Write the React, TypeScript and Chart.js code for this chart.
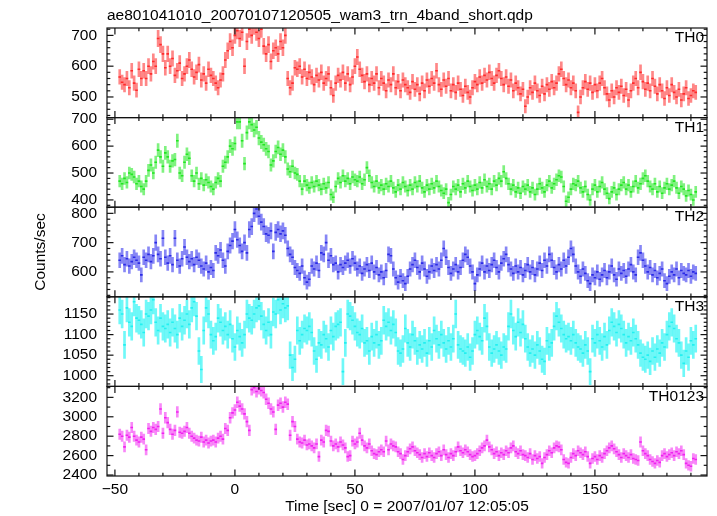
import React, { useEffect, useRef } from "react";
import { Chart, registerables } from "chart.js";

Chart.register(...registerables);

const TITLE = "ae801041010_20070107120505_wam3_trn_4band_short.qdp";
const X_LABEL = "Time [sec] 0 = 2007/01/07 12:05:05";
const Y_LABEL = "Counts/sec";
const BIN_START = -48;
const BIN_WIDTH = 1;
const X_MIN = -53.3;
const X_MAX = 196.7;
const X_TICKS = [-50, 0, 50, 100, 150];

const TH0 = [
  565, 548, 540, 560, 530, 585, 545, 522, 590, 560,
  585, 560, 600, 575, 615, 600, 690, 670, 640, 595,
  640, 600, 625, 570, 585, 610, 560, 575, 600, 620,
  590, 565, 580, 605, 555, 575, 545, 590, 570, 560,
  545, 530, 555, 575, 620, 650, 680, 660, 700, 715,
  690, 710, 600, 680, 720, 700, 730, 710, 690, 720,
  665, 640, 670, 615, 650, 660, 640, 680, 660, 700,
  560, 530, 545, 595, 590, 600, 565, 590, 560, 580,
  565, 540, 570, 555, 580, 545, 560, 575, 530, 505,
  545, 570, 555, 580, 545, 575, 540, 565, 600, 630,
  590, 570, 550, 575, 540, 560, 545, 575, 530, 560,
  545, 520, 555, 540, 575, 530, 550, 520, 555, 540,
  530, 515, 550, 525, 540, 510, 545, 520, 555, 535,
  560, 545, 585, 540, 525, 555, 535, 560, 520, 540,
  515, 545, 525, 505, 535, 515, 500, 530, 550, 540,
  565, 545, 570, 555, 580, 560, 545, 570, 585, 560,
  540, 565, 535, 555, 520, 545, 530, 510, 525, 470,
  500, 530, 515, 545, 520, 505, 535, 510, 540, 525,
  550, 530, 545, 575, 590, 560, 540, 555, 530, 545,
  520, 450, 500, 530, 550, 525, 545, 515, 540, 520,
  545, 560, 530, 510, 490, 520, 500, 530, 515, 535,
  505, 525, 490, 520, 545, 560, 530, 580, 550, 525,
  545, 520, 560, 535, 510, 540, 520, 495, 530, 505,
  540, 515, 500, 525, 490, 510, 530, 495, 505, 520,
  515,
];

const TH1 = [
  470, 460, 480, 465, 500, 495, 485, 460, 470, 450,
  440, 470, 510, 530, 500, 540, 585, 560, 525, 575,
  560, 525, 545, 550, 620, 500, 490, 540, 570, 555,
  490, 470, 500, 460, 480, 455, 475, 465, 450, 440,
  465, 480, 470, 525, 540, 560, 600, 590, 610, 690,
  690, 620, 535, 650, 690, 680, 660, 670, 630, 615,
  605, 590, 580, 530, 545, 580, 595, 570, 585, 560,
  515, 505, 525, 500, 495, 470, 440, 470, 455, 445,
  465, 450, 470, 455, 440, 460, 445, 465, 420, 410,
  450, 480, 465, 490, 470, 480, 460, 485, 475, 470,
  485, 460, 475, 520, 490, 465, 450, 470, 445, 455,
  440, 460, 450, 470, 445, 430, 455, 440, 465, 450,
  435, 455, 440, 465, 450, 470, 445, 430, 455, 440,
  460, 445, 470, 450, 435, 425, 440, 390, 420, 450,
  440, 455, 430, 460, 445, 470, 450, 435, 455, 440,
  465, 445, 475, 450, 460, 440, 470, 455, 480, 470,
  505, 480, 460, 440, 455, 430, 445, 425, 450, 440,
  455, 430, 445, 420, 440, 460, 445, 430, 455, 470,
  445, 460, 475, 490, 485, 450, 395, 410, 440, 460,
  455, 470, 445, 430, 450, 420, 400, 440, 455, 430,
  450, 465, 440, 425, 405, 430, 445, 420, 440, 455,
  465, 440, 455, 430, 450, 470, 445, 460, 480, 490,
  470, 450, 440, 460, 430, 450, 425, 445, 460, 440,
  455, 470, 445, 425, 450, 440, 415, 435, 420, 400,
  430,
];

const TH2 = [
  640, 655, 625, 645, 620, 635, 650, 640, 630, 590,
  650, 640, 660, 635, 655, 700, 660, 645, 715, 650,
  630, 655, 625, 715, 640, 620, 645, 685, 650, 635,
  645, 625, 650, 640, 620, 610, 630, 600, 615, 605,
  665, 655, 675, 640, 620, 670, 690, 705, 745, 710,
  690, 670, 700, 665, 745, 755, 800, 815, 790, 770,
  755, 730, 725, 740, 670, 735, 745, 730, 740, 725,
  680, 660, 650, 615, 605, 595, 620, 580, 565, 575,
  620, 610, 630, 605, 665, 660, 700, 640, 655, 625,
  630, 600, 625, 615, 630, 640, 620, 645, 630, 610,
  620, 595, 610, 625, 605, 630, 600, 615, 590, 600,
  580, 605, 660, 655, 610, 580, 565, 585, 570, 560,
  585, 610, 625, 640, 615, 600, 630, 610, 585, 600,
  620, 605, 625, 610, 640, 680, 650, 615, 595, 610,
  625, 600, 615, 640, 660, 650, 620, 600, 560, 590,
  610, 630, 600, 620, 605, 625, 640, 615, 600, 630,
  645, 660, 625, 610, 595, 620, 600, 615, 590, 605,
  625, 600, 615, 590, 610, 630, 605, 640, 620, 660,
  640, 615, 600, 625, 610, 640, 620, 650, 680, 660,
  620, 600, 585, 610, 595, 570, 560, 590, 580, 600,
  575, 590, 605, 580, 600, 620, 590, 575, 610, 595,
  605, 585, 610, 625, 600, 590, 650, 665, 640, 620,
  600, 615, 590, 605, 580, 595, 610, 570, 560, 585,
  600, 590, 610, 580, 605, 595, 590, 605, 585, 600,
  595,
];

const TH3 = [
  1160, 1150, 1075, 1165, 1130, 1120, 1180, 1140, 1135, 1125,
  1105, 1150, 1145, 1160, 1185, 1130, 1110, 1140, 1120, 1115,
  1125, 1105, 1130, 1115, 1100, 1140, 1120, 1135, 1150, 1125,
  1165, 1180, 1145, 1060, 1015, 1110, 1165, 1150, 1100, 1085,
  1095, 1140, 1130, 1110, 1120, 1100, 1125, 1090, 1070, 1110,
  1095, 1080, 1100, 1150, 1140, 1135, 1150, 1165, 1170, 1145,
  1125, 1110, 1130, 1100, 1155, 1150, 1185, 1160, 1175, 1165,
  1170, 1050, 1020, 1040, 1110, 1085, 1100, 1115, 1110, 1120,
  1105, 1060, 1040, 1080, 1075, 1100, 1090, 1070, 1110, 1095,
  1120, 1125, 1130, 1010, 1080, 1150, 1145, 1135, 1120, 1105,
  1100, 1115, 1080, 1085, 1060, 1095, 1080, 1100, 1075, 1085,
  1135, 1120, 1130, 1110, 1125, 1105, 1060, 1055, 1065, 1115,
  1080, 1070, 1100, 1085, 1060, 1075, 1065, 1080, 1055, 1085,
  1070, 1110, 1090, 1075, 1100, 1080, 1065, 1085, 1070, 1090,
  1150, 1075, 1065, 1060, 1055, 1070, 1045, 1060, 1100, 1110,
  1095, 1085, 1140, 1120, 1070, 1055, 1065, 1075, 1060, 1050,
  1070, 1065, 1120, 1150, 1110, 1095, 1130, 1105, 1125, 1090,
  1070, 1055, 1065, 1050, 1075, 1060, 1040, 1035, 1085, 1070,
  1080, 1120, 1145, 1130, 1115, 1100, 1090, 1095, 1085, 1100,
  1080, 1070, 1065, 1055, 1075, 1060, 1010, 1090, 1080, 1100,
  1085, 1070, 1095, 1075, 1110, 1130, 1120, 1105, 1125, 1115,
  1100, 1080, 1095, 1085, 1105, 1090, 1075, 1055, 1045, 1040,
  1050, 1035, 1060, 1045, 1065, 1055, 1080, 1070, 1100, 1120,
  1130, 1115, 1090, 1080, 1050, 1030, 1060, 1045, 1085, 1075,
  1090,
];

const TH0123 = [
  2820, 2800, 2690, 2810, 2790, 2890, 2800, 2760, 2740, 2790,
  2770, 2660, 2880, 2850, 2890, 2870, 2900, 3080, 2830, 2990,
  2940, 2870, 2820, 2860, 3050, 2840, 2830, 2850, 2890, 2830,
  2800, 2780, 2760, 2750, 2790, 2740, 2760, 2730, 2750, 2760,
  2740, 2780, 2800, 2770, 2880, 2860, 2990, 3040, 3070, 3150,
  3110, 3080, 3030, 2950, 2860, 3280, 3300, 3260, 3290, 3270,
  3250, 3180, 3140, 3080, 3050, 2870, 3120, 3140, 3100, 3150,
  3130, 2810, 2950, 2900, 2770, 2740, 2730, 2760, 2710, 2720,
  2700, 2680, 2720, 2590, 2760, 2740, 2860, 2850, 2750, 2700,
  2720, 2690, 2740, 2710, 2680, 2590, 2600, 2750, 2720, 2740,
  2830, 2760, 2700, 2680, 2720, 2650, 2620, 2610, 2640, 2660,
  2640, 2750, 2660, 2720, 2700, 2690, 2640, 2620, 2560, 2600,
  2640, 2670, 2690, 2650, 2630, 2610, 2580, 2620, 2590, 2630,
  2600, 2580, 2620, 2640, 2600, 2660, 2610, 2580, 2620, 2600,
  2640, 2690, 2650, 2630, 2660, 2640, 2610, 2590, 2600, 2620,
  2650, 2680, 2700, 2760, 2690, 2660, 2620, 2640, 2600, 2630,
  2610, 2650, 2630, 2680, 2700, 2640, 2620, 2650, 2610, 2600,
  2580, 2620, 2560, 2600, 2570, 2590, 2520, 2580, 2610, 2650,
  2630, 2680, 2700, 2690, 2660, 2560, 2530, 2520, 2580, 2620,
  2600, 2650, 2630, 2610, 2640, 2590, 2520, 2570, 2590, 2560,
  2600, 2580, 2620, 2650, 2680, 2700, 2670, 2640, 2610, 2580,
  2620, 2600, 2580, 2610, 2570, 2560, 2550, 2740, 2650, 2620,
  2600, 2560, 2540, 2520, 2550, 2530, 2600, 2620, 2590, 2610,
  2630, 2600, 2640, 2620, 2650, 2610, 2520, 2500, 2490, 2570,
  2560,
];

const PANEL_NAMES = ["TH0", "TH1", "TH2", "TH3", "TH0123"];
const PANEL_VALUES = [TH0, TH1, TH2, TH3, TH0123];
const PANEL_MIN = [433, 373, 515, 974, 2390];
const PANEL_MAX = [724, 706, 821, 1192, 3313];
const PANEL_LABELS = [
  [500, 600, 700],
  [400, 500, 600, 700],
  [600, 700, 800],
  [1000, 1050, 1100, 1150],
  [2400, 2600, 2800, 3000, 3200],
];
const PANEL_MAJOR = [100, 100, 100, 50, 200];
const PANEL_MINOR = [20, 20, 20, 10, 100];
const PANEL_COLORS = ["#ff2a2a", "#22e622", "#2a2ae6", "#22f0f0", "#f022f0"];
const PANEL_ERR_COLORS = [
  "rgba(255,70,70,0.65)",
  "rgba(60,235,60,0.65)",
  "rgba(70,70,240,0.65)",
  "rgba(50,245,245,0.7)",
  "rgba(245,70,245,0.65)",
];

const FONT_FAMILY = "'Liberation Sans', Arial, Helvetica, sans-serif";
const FONT = { family: FONT_FAMILY, size: 15.5, weight: "normal" as const };

const TIMES = TH0.map((_, i) => BIN_START + i * BIN_WIDTH);

const qdpPlugin = {
  id: "qdpFrame",
  beforeDatasetDraw(chart: any, args: any) {
    const ds = chart.data.datasets[args.index];
    const ys = chart.scales[ds.yAxisID];
    const ca = chart.chartArea;
    const ctx = chart.ctx;
    ctx.save();
    ctx.beginPath();
    ctx.rect(ca.left, ys.top, ca.right - ca.left, ys.bottom - ys.top);
    ctx.clip();
  },
  afterDatasetDraw(chart: any) {
    chart.ctx.restore();
  },
  afterDraw(chart: any) {
    const ctx = chart.ctx;
    const ca = chart.chartArea;
    const xs = chart.scales.x;
    ctx.save();
    ctx.strokeStyle = "#111";
    ctx.lineWidth = 1.2;
    const seg = (x1: number, y1: number, x2: number, y2: number) => {
      ctx.beginPath();
      ctx.moveTo(x1, y1);
      ctx.lineTo(x2, y2);
      ctx.stroke();
    };
    PANEL_NAMES.forEach((name, k) => {
      const ys = chart.scales["y" + k];
      const top = ys.top;
      const bottom = ys.bottom;
      ctx.strokeRect(ca.left, top, ca.right - ca.left, bottom - top);
      for (let v = -50; v <= 190; v += 10) {
        const x = xs.getPixelForValue(v);
        const len = v % 50 === 0 ? 6.5 : 3.3;
        seg(x, top, x, top + len);
        seg(x, bottom, x, bottom - len);
      }
      const minor = PANEL_MINOR[k];
      const major = PANEL_MAJOR[k];
      for (let v = Math.ceil(PANEL_MIN[k] / minor) * minor; v <= PANEL_MAX[k]; v += minor) {
        const y = ys.getPixelForValue(v);
        const len = v % major === 0 ? 6.5 : 3.3;
        seg(ca.left, y, ca.left + len, y);
        seg(ca.right, y, ca.right - len, y);
      }
      ctx.fillStyle = "#000";
      ctx.font = `15.5px ${FONT_FAMILY}`;
      ctx.textAlign = "right";
      ctx.textBaseline = "middle";
      ctx.fillText(name, ca.right - 3, top + 10);
    });
    ctx.restore();
  },
};

export default function App() {
  const ref = useRef<HTMLCanvasElement | null>(null);

  useEffect(() => {
    const canvas = ref.current;
    if (!canvas) return;
    Chart.defaults.font.family = FONT_FAMILY;

    const datasets: any[] = [];
    const scales: any = {
      x: {
        type: "linear",
        position: "bottom",
        min: X_MIN,
        max: X_MAX,
        offset: false,
        grid: { display: false, drawTicks: false },
        border: { display: false },
        afterBuildTicks: (s: any) => {
          s.ticks = X_TICKS.map((v) => ({ value: v }));
        },
        afterFit: (s: any) => {
          s.height = 40;
        },
        ticks: {
          autoSkip: false,
          maxRotation: 0,
          padding: 4,
          color: "#000",
          font: FONT,
          callback: (v: any) => (Number(v) < 0 ? "\u2212" + Math.abs(Number(v)) : String(v)),
        },
        title: {
          display: true,
          text: X_LABEL,
          color: "#000",
          font: FONT,
          padding: { top: 0, bottom: 0 },
        },
      },
    };

    PANEL_NAMES.forEach((name, k) => {
      const id = "y" + k;
      const vals = PANEL_VALUES[k];
      datasets.push({
        type: "bar",
        label: name + " error",
        data: vals.map((v, i) => ({ x: TIMES[i], y: [v - Math.sqrt(v), v + Math.sqrt(v)] })),
        xAxisID: "x",
        yAxisID: id,
        backgroundColor: PANEL_ERR_COLORS[k],
        borderWidth: 0,
        barThickness: 2,
        grouped: false,
        order: 1,
      });
      datasets.push({
        type: "line",
        label: name,
        data: vals.map((v, i) => ({ x: TIMES[i], y: v })),
        xAxisID: "x",
        yAxisID: id,
        showLine: false,
        pointStyle: "line",
        pointRadius: 1.3,
        pointHoverRadius: 1.3,
        pointBorderWidth: 1.6,
        pointBorderColor: PANEL_COLORS[k],
        pointBackgroundColor: PANEL_COLORS[k],
        borderColor: PANEL_COLORS[k],
        order: 0,
      });
      scales[id] = {
        type: "linear",
        position: "left",
        stack: "panels",
        stackWeight: 1,
        weight: 5 - k,
        min: PANEL_MIN[k],
        max: PANEL_MAX[k],
        offset: false,
        grid: { display: false, drawTicks: false },
        border: { display: false },
        afterBuildTicks: (s: any) => {
          s.ticks = PANEL_LABELS[k].map((v) => ({ value: v }));
        },
        afterFit: (s: any) => {
          s.width = 107;
        },
        ticks: {
          autoSkip: false,
          padding: 10,
          color: "#000",
          font: FONT,
          callback: (v: any) => String(v),
        },
        title:
          k === 2
            ? { display: true, text: Y_LABEL, color: "#000", font: FONT, padding: { top: 31, bottom: 0 } }
            : { display: false },
      };
    });

    const chart = new Chart(canvas, {
      type: "line",
      data: { datasets },
      options: {
        responsive: false,
        animation: false,
        events: [],
        layout: { padding: { left: 0, right: 10, top: 1, bottom: 0 } },
        scales,
        plugins: {
          legend: { display: false },
          tooltip: { enabled: false },
          title: {
            display: true,
            text: TITLE,
            align: "start",
            fullSize: false,
            color: "#000",
            font: FONT,
            padding: { top: 5, bottom: 3.4 },
          },
        },
      } as any,
      plugins: [qdpPlugin],
    });
    return () => chart.destroy();
  }, []);

  return (
    <div style={{ position: "absolute", left: 0, top: 0, width: 717, height: 516, background: "#fff" }}>
      <canvas ref={ref} width={717} height={516} style={{ display: "block" }} />
    </div>
  );
}
